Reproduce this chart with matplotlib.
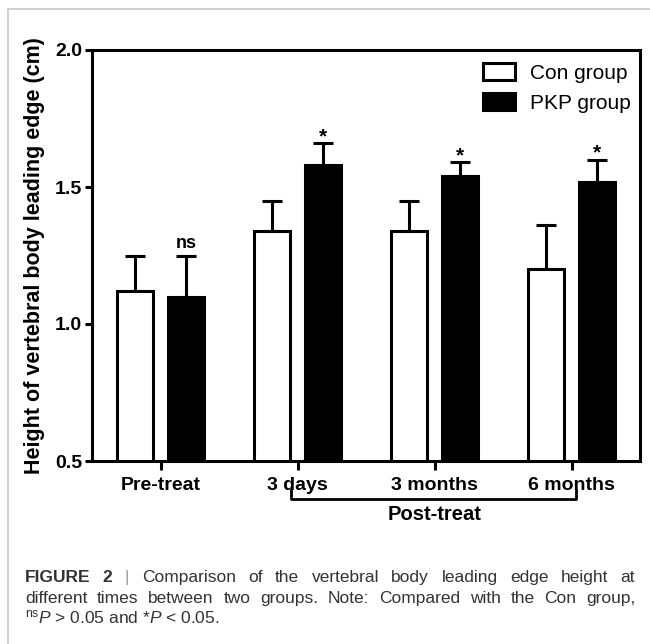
import matplotlib
matplotlib.use("Agg")
import matplotlib.pyplot as plt
import numpy as np
from matplotlib.lines import Line2D
from matplotlib.transforms import blended_transform_factory

# data
timepoints = ["Pre-treat", "3 days", "3 months", "6 months"]
con_mean = [1.12, 1.34, 1.34, 1.20]
con_err = [0.13, 0.11, 0.11, 0.16]
pkp_mean = [1.10, 1.58, 1.54, 1.52]
pkp_err = [0.15, 0.08, 0.05, 0.08]
sig_marks = ["ns", "*", "*", "*"]
yticks = [0.5, 1.0, 1.5, 2.0]

caption1 = ["FIGURE", "2", "|", "Comparison", "of", "the", "vertebral", "body",
            "leading", "edge", "height", "at"]
caption2 = ["different", "times", "between", "two", "groups.", "Note:", "Compared",
            "with", "the", "Con", "group,"]
caption3 = r"$^{\mathrm{ns}}P$ > 0.05 and *$P$ < 0.05."

plt.rcParams["font.family"] = ["Liberation Sans", "DejaVu Sans"]
plt.rcParams["mathtext.fontset"] = "custom"
plt.rcParams["mathtext.rm"] = "Liberation Sans"
plt.rcParams["mathtext.it"] = "Liberation Sans:italic"

W, H = 650, 644
fig = plt.figure(figsize=(W / 100, H / 100), dpi=100)
ax = fig.add_axes([92 / W, 1 - 461 / H, 548 / W, 411 / H])

x = np.arange(len(timepoints))
off = 0.185
bw = 0.265
lw = 2.2

ax.bar(x - off, con_mean, bw, color="white", edgecolor="black", linewidth=lw,
       label="Con group", zorder=2)
ax.bar(x + off, pkp_mean, bw, color="black", edgecolor="black", linewidth=lw,
       label="PKP group", zorder=2)
ax.errorbar(x - off, con_mean, yerr=[np.zeros(4), con_err], fmt="none",
            ecolor="black", elinewidth=lw, capsize=7, capthick=lw, zorder=1)
ax.errorbar(x + off, pkp_mean, yerr=[np.zeros(4), pkp_err], fmt="none",
            ecolor="black", elinewidth=lw, capsize=7, capthick=lw, zorder=1)

for i, s in enumerate(sig_marks):
    top = pkp_mean[i] + pkp_err[i]
    if s == "ns":
        ax.text(x[i] + off, top + 0.012, s, ha="center", va="bottom",
                fontsize=13, fontweight="bold")
    else:
        ax.text(x[i] + off, top - 0.012, s, ha="center", va="bottom",
                fontsize=15, fontweight="bold")

ax.set_xlim(-0.5, 3.5)
ax.set_ylim(0.5, 2.0)
ax.set_yticks(yticks)
ax.set_yticklabels(["%.1f" % v for v in yticks], fontsize=14, fontweight="bold")
ax.set_xticks(x)
ax.set_xticklabels(timepoints, fontsize=14, fontweight="bold")
ax.tick_params(axis="y", length=5, width=lw, pad=2)
ax.tick_params(axis="x", length=6.5, width=lw, pad=5)
for sp in ax.spines.values():
    sp.set_linewidth(lw)

ax.set_ylabel("Height of vertebral body leading edge (cm)", fontsize=15.5,
              fontweight="bold")
ax.yaxis.set_label_coords(-0.085, 0.5)

# bracket under the post-treatment groups
tr = blended_transform_factory(ax.transData, ax.transAxes)
bx0, bx1 = x[1] - 0.045, x[3] + 0.036
yb0, yb1 = -0.071, -0.093
ax.add_line(Line2D([bx0, bx0, bx1, bx1], [yb0, yb1, yb1, yb0], color="black",
                   linewidth=2, transform=tr, clip_on=False))
ax.text((x[1] + x[3]) / 2, -0.131, "Post-treat", transform=tr, ha="center",
        va="center", fontsize=14.5, fontweight="bold")

leg = ax.legend(loc="upper right", bbox_to_anchor=(0.983, 0.968), frameon=False,
                fontsize=15, handlelength=1.55, handleheight=0.87,
                handletextpad=0.7, labelspacing=0.5, borderaxespad=0,
                borderpad=0)

# light frame round the figure panel
fig.add_artist(Line2D([8 / W, 8 / W, 1], [0, 1 - 9 / H, 1 - 9 / H],
                      transform=fig.transFigure, color="#c8c8c8", linewidth=1.2))

# caption, justified on the first two lines
renderer = fig.canvas.get_renderer()
cap_col = "#333333"
cap_fs = 12.5


def justify(words, y_px, x0=25, x1=635, bold_n=0, sep_idx=None):
    texts = []
    for i, w in enumerate(words):
        kw = dict(fontsize=cap_fs, color=cap_col, va="baseline", ha="left")
        if i < bold_n:
            kw["fontweight"] = "bold"
        if i == sep_idx:
            kw["color"] = "#9a9a9a"
        texts.append(fig.text(0, 1 - y_px / H, w, **kw))
    widths = [t.get_window_extent(renderer).width for t in texts]
    gap = (x1 - x0 - sum(widths)) / (len(words) - 1)
    pos = x0
    for t, w in zip(texts, widths):
        t.set_x(pos / W)
        pos += w + gap


justify(caption1, 582, bold_n=2, sep_idx=2)
justify(caption2, 603)
fig.text(25 / W, 1 - 623 / H, caption3, fontsize=cap_fs, color=cap_col,
         va="baseline", ha="left")

fig.savefig("out.png", dpi=100)
